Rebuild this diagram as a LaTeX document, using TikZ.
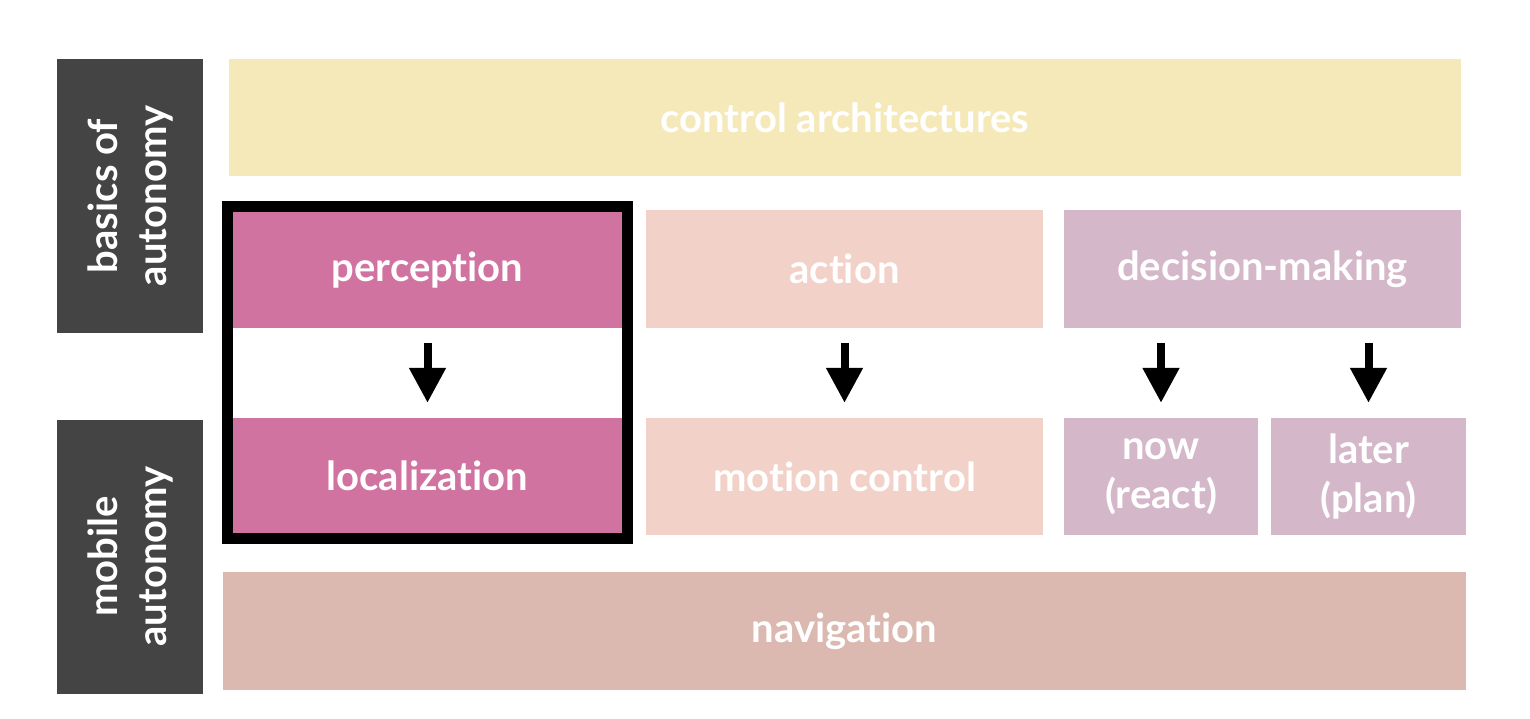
\documentclass[tikz,border=0pt]{standalone}
\usepackage{fontspec}
\setmainfont{Lato}[Ligatures={NoCommon,NoRare}]
\usetikzlibrary{arrows.meta,fit}
\definecolor{cyel}{HTML}{F5E9B9}
\definecolor{cperc}{HTML}{D173A0}
\definecolor{cact}{HTML}{F2D2C8}
\definecolor{cdec}{HTML}{D4B7C9}
\definecolor{cnav}{HTML}{DBB9B1}
\definecolor{cdark}{HTML}{444444}
\begin{document}
\begin{tikzpicture}[x=1pt,y=-1pt,
  box/.style={rectangle, inner sep=0pt, text=white, font=\fontsize{40}{49}\selectfont\bfseries, align=center},
  lab/.style={box, fill=cdark, rotate=90, minimum width=274pt, minimum height=146pt},
  arr/.style={line width=8pt, -{Triangle[width=35pt,length=35pt]}, shorten <=15pt, shorten >=15pt}
]
\useasboundingbox[fill=white] (0,0) rectangle (1530,718);
\node[lab] (basics) at (130,196) {basics of\\autonomy};
\node[lab] (mobile) at (130,556.5) {mobile\\autonomy};
\node[box, fill=cyel, minimum width=1232pt, minimum height=117pt] (ca) at (845,117.5) {control architectures};
\node[box, fill=cperc, minimum width=389pt, minimum height=116pt] (perc) at (427.5,270) {perception};
\node[box, fill=cperc, minimum width=389pt, minimum height=115pt] (loc) at (427.5,475.5) {localization};
\node[box, fill=cact, minimum width=397pt, minimum height=118pt] (act) at (844.5,269) {action};
\node[box, fill=cact, minimum width=397pt, minimum height=117pt] (mc) at (844.5,476.5) {motion control};
\node[box, fill=cdec, minimum width=397pt, minimum height=118pt] (dm) at (1262.5,269) {decision-making};
\node[box, fill=cdec, minimum width=194pt, minimum height=117pt] (now) at (1161,476.5) {now\\(react)};
\node[box, fill=cdec, minimum width=195pt, minimum height=117pt] (later) at (1368.5,476.5) {later\\(plan)};
\node[box, fill=cnav, minimum width=1243pt, minimum height=118pt] (nav) at (844.5,631) {navigation};
\node[draw=black, line width=11pt, fit=(perc)(loc), inner sep=5pt] (frame) {};
\draw[arr] (perc) -- (loc);
\draw[arr] (act) -- (mc);
\draw[arr] (now |- dm.south) -- (now.north);
\draw[arr] (later |- dm.south) -- (later.north);
\end{tikzpicture}
\end{document}
